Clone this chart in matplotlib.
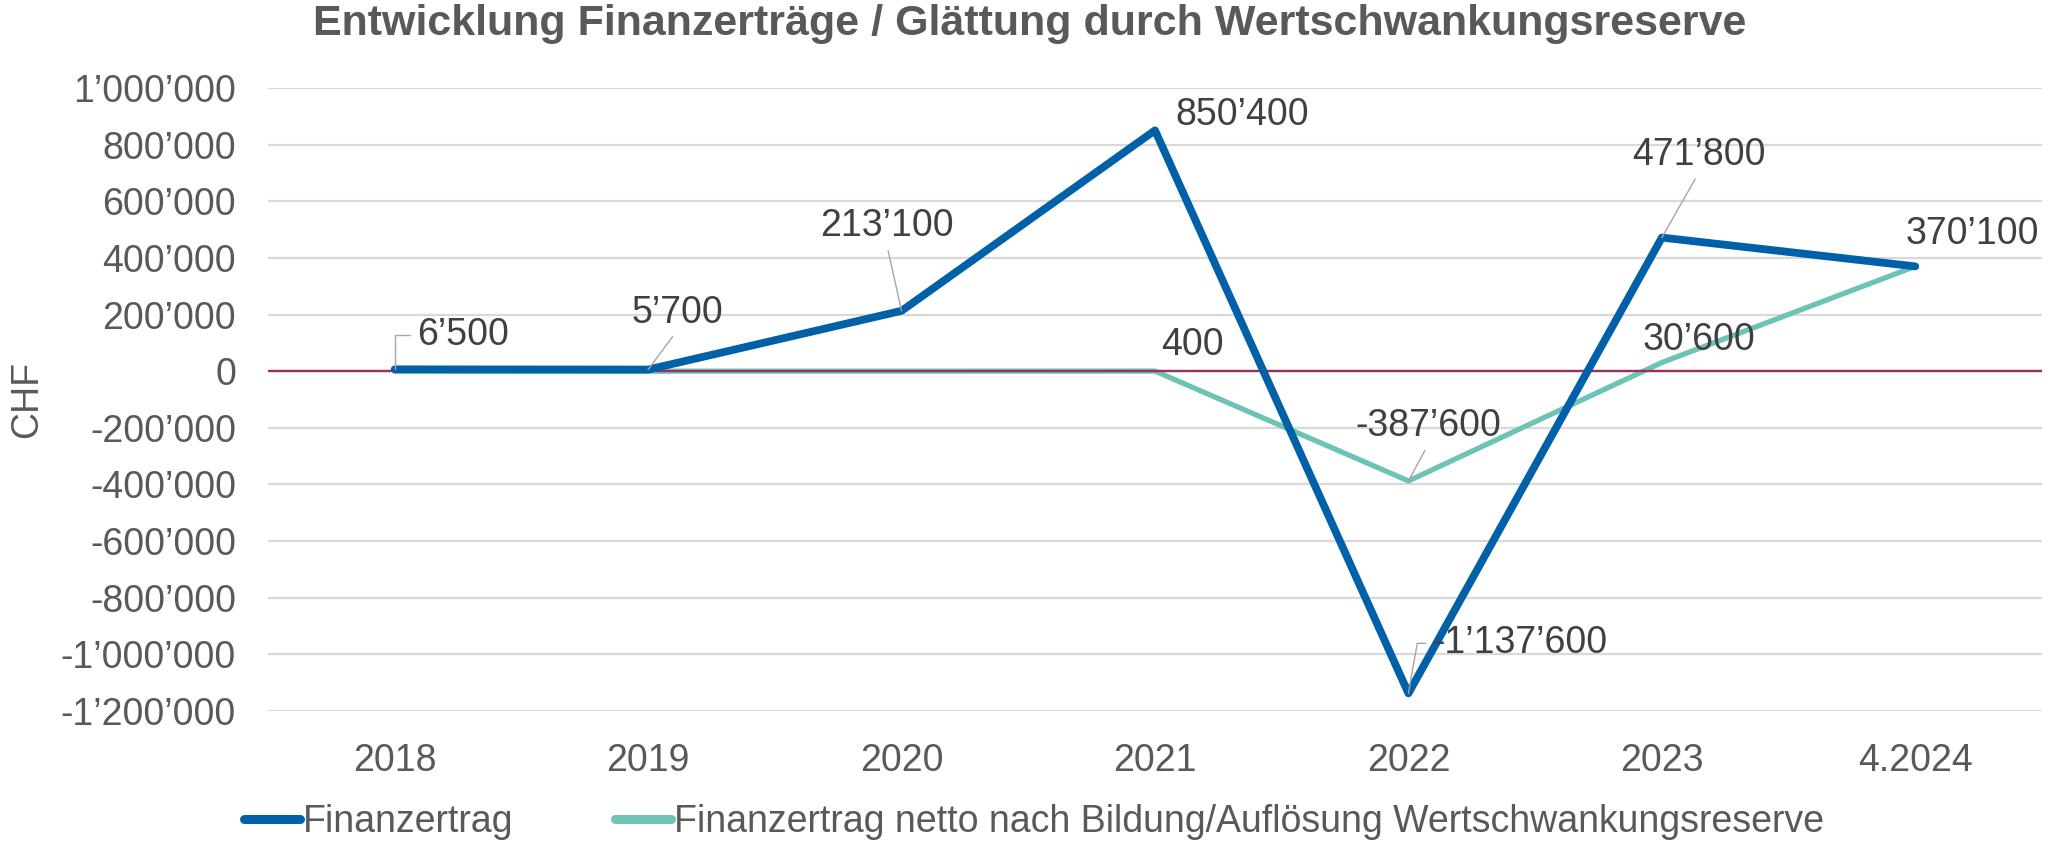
import matplotlib
matplotlib.use("Agg")
import matplotlib.pyplot as plt
from matplotlib.ticker import FuncFormatter

plt.rcParams['font.family'] = ['Liberation Sans', 'DejaVu Sans']

# ---- data ----
categories = ["2018", "2019", "2020", "2021", "2022", "2023", "4.2024"]
finanzertrag = [6500, 5700, 213100, 850400, -1137600, 471800, 370100]
netto = [0, 0, 0, 400, -387600, 30600, 370100]
series_names = ["Finanzertrag",
                "Finanzertrag netto nach Bildung/Auflösung Wertschwankungsreserve"]
y_ticks = [1000000, 800000, 600000, 400000, 200000, 0, -200000, -400000,
           -600000, -800000, -1000000, -1200000]
title = "Entwicklung Finanzerträge / Glättung durch Wertschwankungsreserve"
y_label = "CHF"

def fmt(v):
    s = f"{abs(int(round(v))):,}".replace(",", "\u2019")
    return ("-" if v < 0 else "") + s

# ---- style ----
BLUE = "#0060A8"
TEAL = "#6CC3B6"
MAROON = "#9B2F5E"
GRID = "#D9D9D9"
TICK = "#595959"
LABEL = "#404040"
LEADER = "#A6A6A6"
FS = 27

W, H = 2056, 844
fig = plt.figure(figsize=(W / 100, H / 100), dpi=100)
ax = fig.add_axes([268 / W, 1 - 711 / H, 1774 / W, 623 / H])

x = list(range(len(categories)))
ax.set_xlim(-0.5, len(categories) - 0.5)
ax.set_ylim(-1200000, 1000000)
ax.set_yticks(y_ticks)
ax.yaxis.set_major_formatter(FuncFormatter(lambda v, p: fmt(v)))
ax.set_xticks(x)
ax.set_xticklabels(categories)
ax.tick_params(axis='both', length=0, labelsize=FS, labelcolor=TICK)
ax.tick_params(axis='y', pad=23)
ax.tick_params(axis='x', pad=23)
for s in ax.spines.values():
    s.set_visible(False)
ax.grid(axis='y', color=GRID, linewidth=1.6, zorder=0)
ax.set_axisbelow(True)

l_net, = ax.plot(x, netto, color=TEAL, linewidth=3.8, zorder=3,
                 solid_capstyle='round', solid_joinstyle='round')
ax.axhline(0, color=MAROON, linewidth=1.7, zorder=4)
l_fin, = ax.plot(x, finanzertrag, color=BLUE, linewidth=5.6, zorder=5,
                 solid_capstyle='round', solid_joinstyle='round')

# data labels: (series, index, dx, dy, leader relpos or None, connectionstyle, ha)
labels = [
    (finanzertrag, 0, 22, 34, (0, 0.5), "angle,angleA=0,angleB=90,rad=0", 'left'),
    (finanzertrag, 1, 29, 57, (0.5, 0.0), "arc3", 'center'),
    (finanzertrag, 2, -15, 85, (0.5, 0.0), "arc3", 'center'),
    (finanzertrag, 3, 87, 15, None, None, 'center'),
    (netto, 3, 37, 26, None, None, 'center'),
    (netto, 4, 20, 55, (0.5, 0.0), "arc3", 'center'),
    (finanzertrag, 4, 24, 50, (0, 0.5), "angle,angleA=0,angleB=80,rad=0", 'left'),
    (finanzertrag, 5, 37, 83, (0.5, 0.0), "arc3", 'center'),
    (netto, 5, 37, 23, None, None, 'center'),
    (finanzertrag, 6, 57, 32, None, None, 'center'),
]
for ser, i, dx, dy, rel, cs, ha in labels:
    kw = dict(xy=(x[i], ser[i]), xytext=(dx, dy), textcoords='offset pixels',
              ha=ha, va='center', fontsize=FS, color=LABEL, zorder=6)
    if rel is not None:
        kw['arrowprops'] = dict(arrowstyle='-', color=LEADER, lw=1.0,
                                relpos=rel, connectionstyle=cs,
                                shrinkA=3, shrinkB=0)
    ax.annotate(fmt(ser[i]), **kw)

ax.set_ylabel(y_label, fontsize=FS, color=TICK, va='center')
ax.yaxis.set_label_coords(-(268 - 27) / 1774, 0.5)

fig.text(1030 / W, 1 - 24 / H, title, ha='center', va='center',
         fontsize=31, fontweight='bold', color=TICK)

leg = fig.legend([l_fin, l_net], series_names, loc='center',
                 bbox_to_anchor=(1034 / W, 1 - 822 / H), ncol=2, frameon=False,
                 fontsize=FS, labelcolor=TICK, handlelength=1.5,
                 handletextpad=0.08, columnspacing=2.7, borderpad=0,
                 borderaxespad=0)
for h in leg.legend_handles:
    h.set_linewidth(6.5)
    h.set_solid_capstyle('round')

fig.savefig("out.png", dpi=100)
